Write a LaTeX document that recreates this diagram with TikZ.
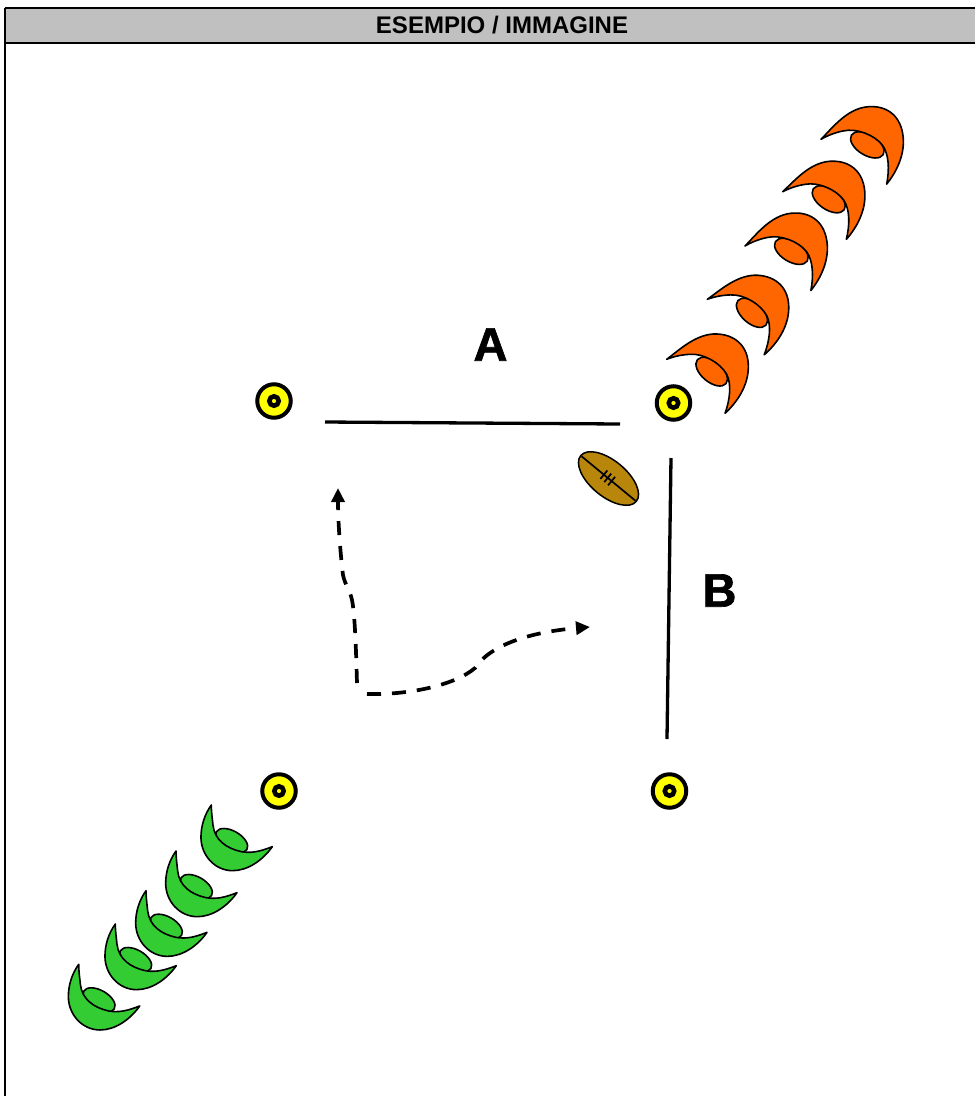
\documentclass[tikz,border=0pt]{standalone}
\usepackage{fontspec}
\setmainfont{Liberation Sans}
\newfontfamily\heavyfont[FakeBold=1.4]{Liberation Sans Bold}
\usetikzlibrary{arrows.meta}
\definecolor{hdr}{HTML}{C0C0C0}
\definecolor{orangeP}{HTML}{FF6600}
\definecolor{greenP}{HTML}{33CC33}
\definecolor{coneY}{HTML}{FFFF00}
\definecolor{ballB}{HTML}{B8860B}
\tikzset{
  x=1pt,y=-1pt,
  playerline/.style={draw=black,line width=1.6pt,line join=round},
  orangeplayer/.pic={
    \begin{scope}[scale=1/3]
      \draw[playerline,fill=orangeP,rotate around={-40:(135,37)}] (135,37) ellipse [x radius=56,y radius=31];
      \draw[playerline,fill=orangeP] (0,0) .. controls (40,-30) and (90,-78) .. (150,-76)
        .. controls (205,-74) and (245,-40) .. (245,22)
        .. controls (245,80) and (210,130) .. (175,162)
        .. controls (190,120) and (195,75) .. (180,45)
        .. controls (160,10) and (110,-18) .. (70,-15)
        .. controls (45,-14) and (20,-8) .. (0,0) -- cycle;
    \end{scope}
  },
  greenplayer/.pic={
    \begin{scope}[scale=1/3]
      \draw[playerline,fill=greenP,rotate around={-30:(61,107)}] (61,107) ellipse [x radius=53,y radius=29];
      \draw[playerline,fill=greenP] (0,0) .. controls (-20,28) and (-31,62) .. (-31,97)
        .. controls (-31,150) and (10,197) .. (64,197)
        .. controls (110,197) and (155,165) .. (183,125)
        .. controls (145,140) and (120,145) .. (90,140)
        .. controls (45,130) and (10,105) .. (5,60)
        .. controls (3,40) and (0,20) .. (0,0) -- cycle;
    \end{scope}
  },
  conemark/.style={circle,draw=black,fill=coneY,line width=4pt,minimum size=33.5pt,inner sep=0pt,outer sep=0pt},
  conehole/.style={circle,draw=black,fill=coneY,line width=4.6pt,minimum size=9.4pt,inner sep=0pt,outer sep=0pt},
  solidline/.style={draw=black,line width=3.3pt},
  runline/.style={draw=black,line width=3.7pt,dash pattern=on 14pt off 11pt,-{Triangle[length=14pt,width=13pt]}},
  bigletter/.style={font=\fontsize{47}{47}\selectfont\heavyfont,inner sep=0pt,text=black},
  hdrtext/.style={font=\fontsize{24}{26}\selectfont\bfseries,inner sep=0pt,text=black}
}
\begin{document}
\begin{tikzpicture}
\useasboundingbox (0,0) rectangle (975,1096);
% header band and frame
\fill[hdr] (5,8) rectangle (975,43);
\coordinate (fTL) at (5,8);
\coordinate (fTR) at (975,8);
\coordinate (fHL) at (5,43);
\coordinate (fHR) at (975,43);
\coordinate (fBL) at (5,1096);
\draw[black,line width=2.2pt] (fTL) -- (fTR);
\draw[black,line width=2.2pt] (fHL) -- (fHR);
\draw[black,line width=2.2pt] (fTL) -- (fBL);
\node[hdrtext] (title) at (502,25.5) {ESEMPIO / IMMAGINE};
% cones
\foreach \n/\px/\py in {c1/274/401,c2/673.5/403,c3/279/791,c4/669.5/791}{
  \node[conemark] (\n) at (\px,\py) {};
  \node[conehole] (\n h) at (\px,\py) {};
}
% orange players
\foreach \px/\py/\a in {666.7/359.3/0,707.3/299.3/-1.5,745/246/8.8,782.7/191.7/6,821/139.3/8.5}{
  \pic[rotate=\a] at (\px,\py) {orangeplayer};
}
% green players
\foreach \px/\py in {211.3/805,176/851,146/890.7,115.3/924,78.7/964.3}{
  \pic at (\px,\py) {greenplayer};
}
% lines
\coordinate (a1) at (325,422);
\coordinate (a2) at (620,424);
\coordinate (b1) at (671,458);
\coordinate (b2) at (667,739);
\draw[solidline] (a1) -- (a2);
\draw[solidline] (b1) -- (b2);
\node[bigletter] (lA) at (490.5,344.5) {A};
\node[bigletter] (lB) at (719.5,590.5) {B};
% ball
\begin{scope}[shift={(608.5,478.5)},rotate=-39.5]
  \draw[draw=black,line width=1.5pt,fill=ballB] (0,0) ellipse [x radius=36,y radius=18];
  \draw[black,line width=1.7pt] (-35,0) -- (35,0);
  \foreach \t in {-6,-1,4}{\draw[black,line width=1.7pt] (\t,-5.5) -- (\t,5.5);}
\end{scope}
% runs
\coordinate (r0) at (357,683);
\coordinate (r1) at (352,600);
\coordinate (r2) at (343,575);
\coordinate (r3) at (338,488);
\coordinate (s0) at (367,694);
\coordinate (s1) at (475,668);
\coordinate (s2) at (590,627);
\draw[runline] (r0) .. controls (356,650) and (355,615) .. (r1)
  .. controls (350,590) and (345,585) .. (r2)
  .. controls (340,550) and (338,520) .. (r3);
\draw[runline] (s0) .. controls (410,695) and (455,685) .. (s1)
  .. controls (490,645) and (530,632) .. (s2);
\end{tikzpicture}
\end{document}
